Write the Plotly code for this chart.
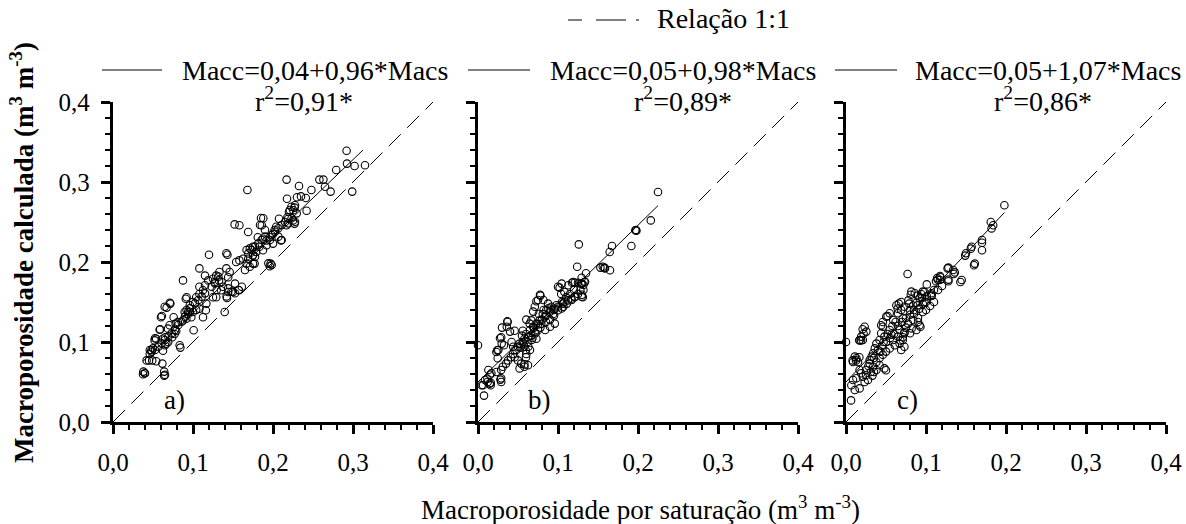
import plotly.graph_objects as go

# Macroporosidade por saturação (x) vs. calculada (y), m3 m-3
panel_a_points = [
    (0.292, 0.339), (0.2925, 0.323), (0.302, 0.320), (0.315, 0.321), (0.299, 0.288), (0.279, 0.315),
    (0.258, 0.303), (0.263, 0.303), (0.265, 0.294), (0.272, 0.288), (0.248, 0.290), (0.2325, 0.295),
    (0.217, 0.303), (0.168, 0.290), (0.2175, 0.279), (0.230, 0.281), (0.235, 0.282), (0.241, 0.280),
    (0.242, 0.264), (0.223, 0.269), (0.227, 0.268), (0.221, 0.265), (0.219, 0.254), (0.225, 0.252),
    (0.215, 0.250), (0.227, 0.248), (0.217, 0.246), (0.2075, 0.254), (0.185, 0.255), (0.186, 0.246),
    (0.152, 0.247), (0.158, 0.246), (0.169, 0.2375), (0.181, 0.231), (0.1875, 0.229), (0.192, 0.227),
    (0.196, 0.231), (0.200, 0.235), (0.202, 0.240), (0.204, 0.244), (0.210, 0.227), (0.200, 0.223),
    (0.192, 0.221), (0.183, 0.219), (0.175, 0.219), (0.171, 0.217), (0.167, 0.215), (0.179, 0.2125),
    (0.1875, 0.2146), (0.175, 0.2083), (0.169, 0.204), (0.197, 0.198), (0.196, 0.1946), (0.177, 0.198),
    (0.1625, 0.204), (0.158, 0.202), (0.154, 0.200), (0.1417, 0.211), (0.143, 0.209), (0.120, 0.209),
    (0.108, 0.192), (0.115, 0.183), (0.1417, 0.192), (0.1458, 0.1875), (0.144, 0.181), (0.133, 0.1875),
    (0.129, 0.183), (0.125, 0.179), (0.127, 0.175), (0.119, 0.177), (0.115, 0.171), (0.108, 0.169),
    (0.1125, 0.1646), (0.108, 0.160), (0.104, 0.156), (0.100, 0.150), (0.096, 0.146), (0.092, 0.140),
    (0.0896, 0.1375), (0.0875, 0.177), (0.1325, 0.177), (0.1375, 0.169), (0.135, 0.1646), (0.129, 0.156),
    (0.125, 0.156), (0.144, 0.1625), (0.150, 0.1625), (0.1575, 0.1646), (0.1425, 0.155), (0.1396, 0.1375),
    (0.1167, 0.148), (0.116, 0.1396), (0.1125, 0.131), (0.108, 0.1417), (0.104, 0.140), (0.100, 0.1375),
    (0.096, 0.1375), (0.094, 0.135), (0.091, 0.154), (0.0717, 0.148), (0.0646, 0.144), (0.0758, 0.131),
    (0.060, 0.131), (0.081, 0.125), (0.0783, 0.123), (0.0708, 0.121), (0.0688, 0.1167), (0.0583, 0.1154),
    (0.0875, 0.127), (0.0917, 0.129), (0.0979, 0.131), (0.1008, 0.1146), (0.079, 0.1138), (0.077, 0.110),
    (0.074, 0.106), (0.065, 0.106), (0.0625, 0.104), (0.054, 0.104), (0.052, 0.102), (0.069, 0.100),
    (0.0667, 0.098), (0.065, 0.096), (0.0833, 0.096), (0.0842, 0.093), (0.050, 0.092), (0.048, 0.0896),
    (0.046, 0.085), (0.0625, 0.089), (0.049, 0.077), (0.054, 0.076), (0.0617, 0.073), (0.064, 0.058),
    (0.0396, 0.061), (0.0375, 0.0596), (0.092, 0.156), (0.071, 0.149), (0.067, 0.143), (0.061, 0.1325),
    (0.059, 0.116), (0.0525, 0.1046), (0.046, 0.090), (0.042, 0.077), (0.045, 0.077), (0.038, 0.063),
    (0.040, 0.061), (0.065, 0.059), (0.064, 0.063), (0.148, 0.163), (0.1525, 0.161), (0.157, 0.165),
    (0.161, 0.169), (0.1525, 0.173), (0.142, 0.157), (0.144, 0.167), (0.165, 0.190), (0.171, 0.194),
    (0.175, 0.198), (0.167, 0.198), (0.1775, 0.2067), (0.1317, 0.1817), (0.1358, 0.175), (0.1275, 0.1733),
    (0.1233, 0.1692), (0.1296, 0.165), (0.115, 0.1608), (0.1108, 0.1567), (0.1067, 0.1525), (0.1025, 0.1483),
    (0.096, 0.142), (0.094, 0.138), (0.090, 0.1317), (0.0858, 0.1254), (0.0817, 0.1213), (0.0775, 0.115),
    (0.0733, 0.1108), (0.0692, 0.1067), (0.065, 0.1025), (0.0608, 0.0983), (0.0567, 0.0942), (0.0525, 0.090),
    (0.0483, 0.0879), (0.218, 0.256), (0.2233, 0.2546), (0.2275, 0.2504), (0.2192, 0.2483), (0.2108, 0.2463),
    (0.2067, 0.2421), (0.2025, 0.2379), (0.1983, 0.2338), (0.190, 0.2317), (0.1858, 0.2275), (0.1817, 0.2233),
    (0.1775, 0.2192), (0.1733, 0.215), (0.1692, 0.2108), (0.1879, 0.2546), (0.1838, 0.2463), (0.190, 0.240),
    (0.2067, 0.2317), (0.2108, 0.2275), (0.1962, 0.2275), (0.1942, 0.1983), (0.1983, 0.1963), (0.2275, 0.271),
    (0.2254, 0.2646), (0.2296, 0.2608), (0.220, 0.2625),
]

panel_b_points = [
    (0.225, 0.2875), (0.216, 0.252), (0.1967, 0.2396), (0.198, 0.239), (0.1917, 0.220), (0.126, 0.222),
    (0.1675, 0.220), (0.1646, 0.2125), (0.165, 0.1896), (0.156, 0.194), (0.153, 0.193), (0.158, 0.193),
    (0.124, 0.194), (0.135, 0.186), (0.133, 0.175), (0.129, 0.173), (0.125, 0.174), (0.1175, 0.174),
    (0.121, 0.174), (0.102, 0.168), (0.128, 0.1646), (0.125, 0.160), (0.131, 0.156), (0.121, 0.156),
    (0.1167, 0.154), (0.1125, 0.152), (0.108, 0.150), (0.106, 0.148), (0.104, 0.160), (0.108, 0.1625),
    (0.078, 0.158), (0.073, 0.151), (0.0875, 0.148), (0.0917, 0.144), (0.096, 0.1417), (0.100, 0.1396),
    (0.094, 0.135), (0.0854, 0.1396), (0.081, 0.135), (0.0833, 0.131), (0.077, 0.127), (0.073, 0.123),
    (0.0688, 0.119), (0.0646, 0.123), (0.0667, 0.127), (0.0604, 0.128), (0.0367, 0.126), (0.030, 0.118),
    (0.0458, 0.114), (0.056, 0.114), (0.0708, 0.1125), (0.0667, 0.108), (0.0625, 0.106), (0.058, 0.104),
    (0.056, 0.100), (0.052, 0.098), (0.050, 0.094), (0.0458, 0.0896), (0.0438, 0.085), (0.041, 0.081),
    (0.029, 0.106), (0.0325, 0.096), (0.024, 0.0896), (0.023, 0.0875), (0.000, 0.096), (0.0458, 0.081),
    (0.050, 0.077), (0.054, 0.073), (0.052, 0.067), (0.058, 0.069), (0.0625, 0.071), (0.0375, 0.077),
    (0.035, 0.073), (0.031, 0.069), (0.029, 0.065), (0.028, 0.053), (0.029, 0.050), (0.023, 0.0625),
    (0.0167, 0.061), (0.0117, 0.054), (0.0063, 0.046), (0.0146, 0.048), (0.0158, 0.046), (0.0075, 0.033),
    (0.079, 0.1229), (0.075, 0.1146), (0.073, 0.104), (0.058, 0.094), (0.0596, 0.090), (0.0604, 0.085),
    (0.060, 0.081), (0.058, 0.072), (0.037, 0.125), (0.036, 0.119), (0.040, 0.113), (0.0275, 0.1046),
    (0.0296, 0.098), (0.0254, 0.090), (0.0246, 0.0796), (0.013, 0.065), (0.015, 0.059), (0.0088, 0.0525),
    (0.0046, 0.046), (0.012, 0.050), (0.016, 0.049), (0.029, 0.0546), (0.0775, 0.159), (0.0817, 0.1525),
    (0.075, 0.1525), (0.071, 0.144), (0.069, 0.138), (0.100, 0.169), (0.1046, 0.173), (0.113, 0.171),
    (0.119, 0.175), (0.130, 0.173), (0.1317, 0.165), (0.130, 0.159), (0.121, 0.157), (0.117, 0.1525),
    (0.111, 0.148), (0.1067, 0.144), (0.1046, 0.142), (0.084, 0.115), (0.090, 0.119), (0.096, 0.123),
    (0.063, 0.094), (0.065, 0.090), (0.067, 0.1025), (0.055, 0.108), (0.060, 0.110), (0.065, 0.115),
    (0.070, 0.118), (0.075, 0.122), (0.080, 0.128), (0.085, 0.133), (0.090, 0.138), (0.095, 0.140),
    (0.098, 0.146), (0.085, 0.125), (0.078, 0.118), (0.072, 0.111), (0.068, 0.105), (0.062, 0.100),
    (0.057, 0.097), (0.053, 0.093), (0.048, 0.090), (0.044, 0.094), (0.042, 0.100), (0.090, 0.128),
    (0.095, 0.133), (0.100, 0.144), (0.105, 0.150), (0.110, 0.156), (0.115, 0.160), (0.120, 0.165),
    (0.088, 0.142), (0.082, 0.140), (0.076, 0.135), (0.1975, 0.240), (0.1587, 0.192), (0.1296, 0.1804),
    (0.1338, 0.1754), (0.1317, 0.1713), (0.1296, 0.1567),
]

panel_c_points = [
    (0.198, 0.271), (0.181, 0.250), (0.182, 0.242), (0.184, 0.246), (0.170, 0.224), (0.170, 0.2146),
    (0.156, 0.2167), (0.149, 0.208), (0.160, 0.196), (0.127, 0.192), (0.1346, 0.185), (0.128, 0.176),
    (0.118, 0.181), (0.1146, 0.178), (0.1125, 0.176), (0.143, 0.175), (0.077, 0.185), (0.101, 0.172),
    (0.107, 0.1575), (0.098, 0.1625), (0.094, 0.160), (0.0896, 0.158), (0.081, 0.159), (0.098, 0.150),
    (0.0896, 0.1458), (0.0917, 0.1417), (0.096, 0.1375), (0.085, 0.135), (0.079, 0.148), (0.066, 0.148),
    (0.0646, 0.1417), (0.093, 0.119), (0.073, 0.1125), (0.071, 0.106), (0.068, 0.102), (0.052, 0.1325),
    (0.046, 0.125), (0.044, 0.121), (0.0208, 0.116), (0.022, 0.1104), (0.0188, 0.102), (0.0167, 0.102),
    (0.000, 0.100), (0.0083, 0.077), (0.0125, 0.077), (0.0167, 0.081), (0.0063, 0.027), (0.050, 0.0646),
    (0.033, 0.058), (0.031, 0.0625), (0.035, 0.0625), (0.0817, 0.163), (0.086, 0.161), (0.096, 0.163),
    (0.1067, 0.161), (0.101, 0.157), (0.092, 0.155), (0.088, 0.149), (0.096, 0.1475), (0.084, 0.1456),
    (0.069, 0.150), (0.063, 0.146), (0.069, 0.140), (0.073, 0.144), (0.065, 0.136), (0.0546, 0.136),
    (0.0504, 0.1317), (0.059, 0.1275), (0.071, 0.1296), (0.080, 0.134), (0.084, 0.1275), (0.090, 0.125),
    (0.092, 0.121), (0.088, 0.115), (0.0233, 0.119), (0.0254, 0.113), (0.019, 0.1067), (0.017, 0.1025),
    (0.021, 0.1025), (0.046, 0.119), (0.044, 0.111), (0.048, 0.1067), (0.042, 0.1025), (0.038, 0.098),
    (0.036, 0.092), (0.034, 0.086), (0.032, 0.0817), (0.0296, 0.0775), (0.0546, 0.115), (0.0567, 0.109),
    (0.059, 0.1025), (0.061, 0.096), (0.0546, 0.092), (0.050, 0.088), (0.046, 0.084), (0.042, 0.080),
    (0.038, 0.075), (0.067, 0.115), (0.073, 0.111), (0.071, 0.1025), (0.067, 0.098), (0.073, 0.094),
    (0.069, 0.090), (0.065, 0.1067), (0.080, 0.111), (0.082, 0.117), (0.0775, 0.123), (0.048, 0.067),
    (0.011, 0.0817), (0.013, 0.0796), (0.0088, 0.075), (0.015, 0.075), (0.017, 0.065), (0.019, 0.061),
    (0.021, 0.0567), (0.025, 0.0587), (0.0275, 0.0525), (0.0233, 0.050), (0.013, 0.0546), (0.0088, 0.0525),
    (0.0067, 0.046), (0.011, 0.040), (0.017, 0.042), (0.0296, 0.073), (0.034, 0.069), (0.038, 0.065),
    (0.042, 0.071), (0.128, 0.193), (0.134, 0.190), (0.136, 0.187), (0.1175, 0.1825), (0.114, 0.180),
    (0.1175, 0.1775), (0.128, 0.178), (0.1446, 0.1775), (0.107, 0.159), (0.157, 0.219), (0.150, 0.211),
    (0.161, 0.198), (0.170, 0.2275), (0.040, 0.090), (0.045, 0.095), (0.050, 0.100), (0.055, 0.105),
    (0.060, 0.110), (0.065, 0.120), (0.070, 0.125), (0.075, 0.130), (0.080, 0.140), (0.085, 0.140),
    (0.090, 0.130), (0.100, 0.140), (0.105, 0.145), (0.110, 0.150), (0.095, 0.155), (0.058, 0.120),
    (0.052, 0.110), (0.047, 0.100), (0.043, 0.088), (0.035, 0.080), (0.028, 0.070), (0.025, 0.065),
    (0.062, 0.125), (0.075, 0.118), (0.078, 0.152), (0.100, 0.150), (0.110, 0.165), (0.115, 0.165),
    (0.120, 0.170),
]

# Regression: intercept, slope, x-span of the fitted line
fit_intercepts = [0.04, 0.05, 0.05]
fit_slopes = [0.96, 0.98, 1.07]
fit_spans = [(0.0375, 0.3125), (0.0, 0.225), (0.0, 0.198)]
fit_labels = ["Macc=0,04+0,96*Macs", "Macc=0,05+0,98*Macs", "Macc=0,05+1,07*Macs"]
r2_labels = ["r<sup>2</sup>=0,91*", "r<sup>2</sup>=0,89*", "r<sup>2</sup>=0,86*"]
panel_tags = ["a)", "b)", "c)"]
axis_range = [0.0, 0.4]

W, H = 1186, 524
FONT = "Times New Roman, Liberation Serif, serif"
panels = [panel_a_points, panel_b_points, panel_c_points]
# plot-area pixel boxes (left, right); shared top/bottom
x_boxes = [(113, 433), (478, 798), (846, 1166)]
y_top, y_bot = 102, 422

fig = go.Figure()

for i, pts in enumerate(panels):
    sfx = "" if i == 0 else str(i + 1)
    xa, ya = "x" + sfx, "y" + sfx
    xs = [p[0] for p in pts]
    ys = [p[1] for p in pts]
    # 1:1 line
    fig.add_trace(go.Scatter(x=axis_range, y=axis_range, mode="lines", xaxis=xa, yaxis=ya,
                             line=dict(color="black", width=1, dash="17px,9px"), showlegend=False,
                             hoverinfo="skip"))
    # observations
    fig.add_trace(go.Scatter(x=xs, y=ys, mode="markers", xaxis=xa, yaxis=ya, cliponaxis=False,
                             marker=dict(symbol="circle-open", size=7.5, color="black",
                                         line=dict(width=1.1, color="black")),
                             showlegend=False))
    # fitted line
    x0, x1 = fit_spans[i]
    b0, b1 = fit_intercepts[i], fit_slopes[i]
    fig.add_trace(go.Scatter(x=[x0, x1], y=[b0 + b1 * x0, b0 + b1 * x1], mode="lines",
                             xaxis=xa, yaxis=ya, line=dict(color="black", width=1),
                             showlegend=False, hoverinfo="skip"))

    axis_common = dict(
        range=axis_range, dtick=0.1, tickformat=".1f", showgrid=False, zeroline=False,
        showline=True, linecolor="black", linewidth=3, ticks="outside", ticklen=9,
        tickwidth=2.5, tickcolor="black", automargin=False,
        minor=dict(dtick=0.02, ticks="outside", ticklen=5, tickwidth=2, tickcolor="black"),
        tickfont=dict(family=FONT, size=25, color="black"),
    )
    l, r = x_boxes[i]
    fig.layout["xaxis" + sfx] = dict(axis_common, domain=[l / W, r / W], anchor=ya,
                                     ticklabelstandoff=7)
    # a non-breaking space keeps the y labels a little further from the ticks
    fig.layout["yaxis" + sfx] = dict(axis_common, domain=[1 - y_bot / H, 1 - y_top / H], anchor=xa,
                                     showticklabels=(i == 0), ticksuffix="\u00a0")

    # panel tag
    fig.add_annotation(x=0.077, y=0.028, xref=xa, yref=ya, text=panel_tags[i], showarrow=False,
                       xanchor="center", yanchor="middle",
                       font=dict(family=FONT, size=27, color="black"))

annotations_px = [
    # (text, x_px, y_px, anchor)
    (fit_labels[0], 180, 70, "left"),
    (fit_labels[1], 548, 70, "left"),
    (fit_labels[2], 913, 70, "left"),
    (r2_labels[0], 304, 99, "center"),
    (r2_labels[1], 683, 99, "center"),
    (r2_labels[2], 1043, 99, "center"),
    ("Relação 1:1", 655, 18, "left"),
]
for txt, px, py, anc in annotations_px:
    fig.add_annotation(x=px / W, y=1 - py / H, xref="paper", yref="paper", text=txt,
                       showarrow=False, xanchor=anc, yanchor="middle",
                       font=dict(family=FONT, size=28, color="black"))

# legend keys for the fitted lines and the 1:1 line
for lx0, lx1 in [(102, 162), (468, 530), (835, 897)]:
    fig.add_shape(type="line", xref="paper", yref="paper", x0=lx0 / W, x1=lx1 / W,
                  y0=1 - 70 / H, y1=1 - 70 / H, line=dict(color="black", width=1))
for lx0, lx1 in [(568, 582), (596, 626)]:
    fig.add_shape(type="line", xref="paper", yref="paper", x0=lx0 / W, x1=lx1 / W,
                  y0=1 - 20 / H, y1=1 - 20 / H, line=dict(color="black", width=1))
fig.add_shape(type="line", xref="paper", yref="paper", x0=636 / W, x1=639 / W,
              y0=1 - 20 / H, y1=1 - 20 / H, line=dict(color="black", width=1))

# axis titles
fig.add_annotation(x=640 / W, y=1 - 508 / H, xref="paper", yref="paper",
                   xanchor="center", yanchor="middle",
                   text="Macroporosidade por saturação (m<sup>3</sup> m<sup>-3</sup>)",
                   showarrow=False, font=dict(family=FONT, size=27, color="black"))
fig.add_annotation(x=22 / W, y=1 - 253 / H, xref="paper", yref="paper", textangle=-90,
                   xanchor="center", yanchor="middle",
                   text="<b>Macroporosidade calculada (m<sup>3</sup> m<sup>-3</sup>)</b>",
                   showarrow=False, font=dict(family=FONT, size=27, color="black"))

fig.update_layout(
    width=W, height=H, margin=dict(l=0, r=0, t=0, b=0, autoexpand=False),
    paper_bgcolor="white", plot_bgcolor="white", separators=", ",
    showlegend=False, font=dict(family=FONT, color="black"),
)

fig.write_html("out.html")
